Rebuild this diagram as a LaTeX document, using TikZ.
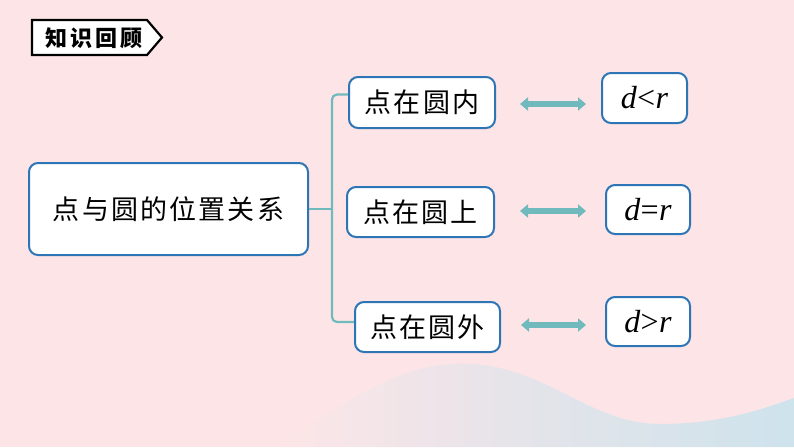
\documentclass[tikz,border=0pt]{standalone}
\usepackage{fontspec}
\usetikzlibrary{arrows.meta}
\newfontfamily\cjk[LetterSpace=8]{Noto Sans CJK SC}
\newfontfamily\cjktitle[LetterSpace=14]{Noto Sans CJK SC}
\newfontfamily\formfont{Liberation Serif}
\definecolor{bgpink}{RGB}{253,229,231}
\definecolor{boxblue}{RGB}{46,117,182}
\definecolor{tealc}{RGB}{112,186,190}
\definecolor{waveblue}{RGB}{206,227,236}
\tikzset{
  bluebox/.style={draw=boxblue, line width=2pt, fill=white, rounded corners=9pt, inner sep=0pt, font=\cjk\fontsize{27}{30}\selectfont},
  formbox/.style={draw=boxblue, line width=2pt, fill=white, rounded corners=9pt, inner sep=0pt, font=\formfont\itshape\fontsize{32}{34}\selectfont},
  dblarrow/.style={tealc, line width=5.5pt, {Triangle[length=8pt,width=13pt]}-{Triangle[length=8pt,width=13pt]}},
  conn/.style={tealc, line width=2.2pt, rounded corners=5pt}
}
\begin{document}
\begin{tikzpicture}[x=1pt,y=-1pt]
\fill[bgpink] (0,0) rectangle (794,447);
\useasboundingbox (0,0) rectangle (794,447);
% bottom wave
\shade[left color=bgpink, right color=waveblue, middle color=waveblue!55!bgpink]
  (280,447) .. controls (360,390) and (420,350) .. (500,368)
  .. controls (560,382) and (600,424) .. (660,424)
  .. controls (720,424) and (760,410) .. (794,398) -- (794,447) -- cycle;
% title tag
\draw[black, line width=2.2pt, fill=white] (32,20) -- (147,20) -- (162,37.5) -- (147,55) -- (32,55) -- cycle;
\node[font=\cjktitle\bfseries\fontsize{22}{24}\selectfont, inner sep=0pt] (title) at (94,38) {知识回顾};
% nodes
\node[bluebox, minimum width=279pt, minimum height=92pt] (main) at (168.5,209) {点与圆的位置关系};
\node[bluebox, minimum width=146pt, minimum height=51pt] (c1) at (422,102.5) {点在圆内};
\node[bluebox, minimum width=147pt, minimum height=50pt] (c2) at (420.5,212) {点在圆上};
\node[bluebox, minimum width=145pt, minimum height=50pt] (c3) at (427.5,327) {点在圆外};
\node[formbox, minimum width=85pt, minimum height=50pt] (r1) at (644.5,98) {d\kern-2pt<\kern-1pt r};
\node[formbox, minimum width=84pt, minimum height=49pt] (r2) at (648,209.5) {d\kern-2pt=\kern-1pt r};
\node[formbox, minimum width=84pt, minimum height=49pt] (r3) at (648,321.5) {d\kern-2pt>\kern-1pt r};
% bracket connector
\coordinate (brx) at (332,209);
\draw[conn] (main.east) -- (brx);
\draw[conn] ([yshift=8pt]c1.west) -| (brx) |- ([yshift=5pt]c3.west);
% double arrows
\draw[dblarrow, shorten <=24pt, shorten >=15pt] ([yshift=-1.5pt]c1.east) -- ([yshift=-1.5pt]c1.east -| r1.west);
\draw[dblarrow, shorten <=25pt, shorten >=19pt] ([yshift=1pt]c2.east) -- ([yshift=1pt]c2.east -| r2.west);
\draw[dblarrow, shorten <=20pt, shorten >=19pt] ([yshift=2pt]c3.east) -- ([yshift=2pt]c3.east -| r3.west);
\end{tikzpicture}
\end{document}
